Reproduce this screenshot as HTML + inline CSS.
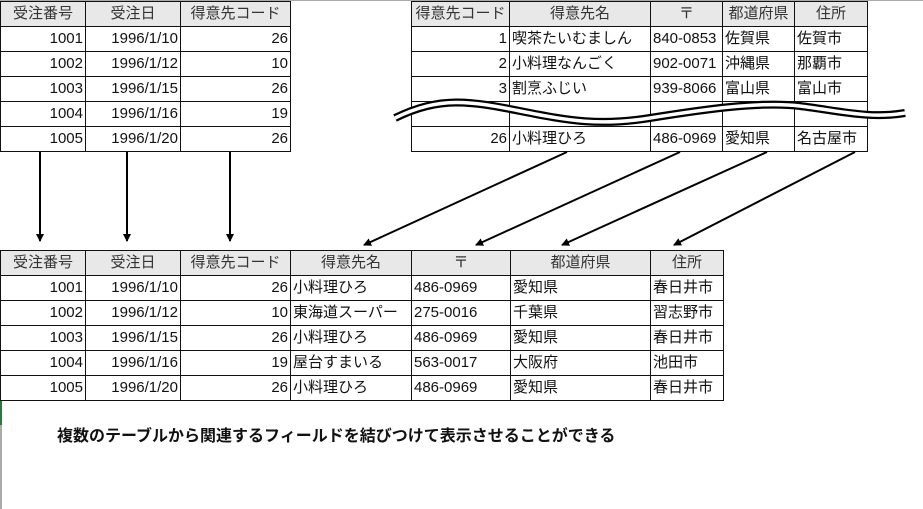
<!DOCTYPE html>
<html><head><meta charset="utf-8"><style>
body{margin:0;width:923px;height:509px;position:relative;background:#fff;overflow:hidden;font-family:"Liberation Sans","Noto Sans CJK JP",sans-serif;}
table{position:absolute;border-collapse:collapse;table-layout:fixed;font-size:15px;color:#111;}
td{border:1.5px solid #111;height:24px;padding:0 2px;white-space:nowrap;overflow:hidden;line-height:20px;}
th{border:1.5px solid #111;height:24px;background:#e8e8e8;font-weight:normal;padding:0;color:#333;line-height:20px;}
.r{text-align:right}
svg{position:absolute;left:0;top:0}
.cap{position:absolute;left:57px;top:422px;font-size:16px;font-weight:bold;color:#111;white-space:nowrap;}
</style></head><body>
<div style="position:absolute;left:0;top:0;width:923px;height:1px;background:#aaa"></div>
<div style="position:absolute;left:0;top:400px;width:2px;height:25px;background:#2a7a3a"></div>
<div style="position:absolute;left:0;top:425px;width:2px;height:84px;background:#aaa"></div>

<table style="left:0;top:1px;width:290px">
<col style="width:85px"><col style="width:95px"><col style="width:110px">
<tr><th>受注番号</th><th>受注日</th><th>得意先コード</th></tr>
<tr><td class="r">1001</td><td class="r">1996/1/10</td><td class="r">26</td></tr>
<tr><td class="r">1002</td><td class="r">1996/1/12</td><td class="r">10</td></tr>
<tr><td class="r">1003</td><td class="r">1996/1/15</td><td class="r">26</td></tr>
<tr><td class="r">1004</td><td class="r">1996/1/16</td><td class="r">19</td></tr>
<tr><td class="r">1005</td><td class="r">1996/1/20</td><td class="r">26</td></tr>
</table>

<table style="left:411px;top:1px;width:456px">
<col style="width:98px"><col style="width:141px"><col style="width:72px"><col style="width:72px"><col style="width:73px">
<tr><th>得意先コード</th><th>得意先名</th><th>〒</th><th>都道府県</th><th>住所</th></tr>
<tr><td class="r">1</td><td>喫茶たいむましん</td><td>840-0853</td><td>佐賀県</td><td>佐賀市</td></tr>
<tr><td class="r">2</td><td>小料理なんごく</td><td>902-0071</td><td>沖縄県</td><td>那覇市</td></tr>
<tr><td class="r">3</td><td>割烹ふじい</td><td>939-8066</td><td>富山県</td><td>富山市</td></tr>
<tr><td></td><td></td><td></td><td></td><td></td></tr>
<tr><td class="r">26</td><td>小料理ひろ</td><td>486-0969</td><td>愛知県</td><td>名古屋市</td></tr>
</table>

<table style="left:0;top:250px;width:723px">
<col style="width:85px"><col style="width:95px"><col style="width:110px"><col style="width:121px"><col style="width:99px"><col style="width:140px"><col style="width:73px">
<tr><th>受注番号</th><th>受注日</th><th>得意先コード</th><th>得意先名</th><th>〒</th><th>都道府県</th><th>住所</th></tr>
<tr><td class="r">1001</td><td class="r">1996/1/10</td><td class="r">26</td><td>小料理ひろ</td><td>486-0969</td><td>愛知県</td><td>春日井市</td></tr>
<tr><td class="r">1002</td><td class="r">1996/1/12</td><td class="r">10</td><td>東海道スーパー</td><td>275-0016</td><td>千葉県</td><td>習志野市</td></tr>
<tr><td class="r">1003</td><td class="r">1996/1/15</td><td class="r">26</td><td>小料理ひろ</td><td>486-0969</td><td>愛知県</td><td>春日井市</td></tr>
<tr><td class="r">1004</td><td class="r">1996/1/16</td><td class="r">19</td><td>屋台すまいる</td><td>563-0017</td><td>大阪府</td><td>池田市</td></tr>
<tr><td class="r">1005</td><td class="r">1996/1/20</td><td class="r">26</td><td>小料理ひろ</td><td>486-0969</td><td>愛知県</td><td>春日井市</td></tr>
</table>

<svg width="923" height="509">
<defs><marker id="a" markerWidth="8" markerHeight="8" refX="7" refY="4" orient="auto" markerUnits="userSpaceOnUse"><path d="M0,0 L8,4 L0,8 z" fill="#000"/></marker></defs>
<g stroke="#000" stroke-width="2" fill="none">
<path d="M395,118 C440,96 470,101 520,111 S600,126 650,118 S760,101 800,106 S870,119 905,113" stroke-width="8"/>
<path d="M395,118 C440,96 470,101 520,111 S600,126 650,118 S760,101 800,106 S870,119 905,113" stroke="#fff" stroke-width="3.5"/>
<line x1="40" y1="152" x2="40" y2="241" marker-end="url(#a)"/>
<line x1="127" y1="152" x2="127" y2="241" marker-end="url(#a)"/>
<line x1="230" y1="152" x2="230" y2="241" marker-end="url(#a)"/>
<line x1="567" y1="152" x2="364" y2="245" marker-end="url(#a)"/>
<line x1="680" y1="152" x2="476" y2="245" marker-end="url(#a)"/>
<line x1="767" y1="152" x2="562" y2="245" marker-end="url(#a)"/>
<line x1="855" y1="152" x2="674" y2="245" marker-end="url(#a)"/>
</g>
</svg>
<div class="cap">複数のテーブルから関連するフィールドを結びつけて表示させることができる</div>
</body></html>
